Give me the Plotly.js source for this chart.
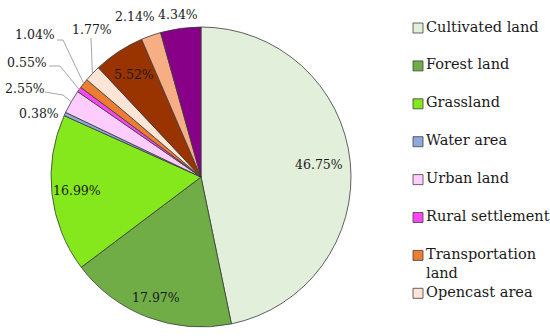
<!DOCTYPE html>
<html>
<head>
<meta charset="utf-8">
<script src="https://cdn.plot.ly/plotly-3.0.1.min.js"></script>
<style>html,body{margin:0;padding:0;background:#fff;}#chart{width:550px;height:336px;}</style>
</head>
<body>
<div id="chart"></div>
<script>
// ---- data ----
const labels = ["Cultivated land","Forest land","Grassland","Water area","Urban land","Rural settlement","Transportation land","Opencast area","Industrial and mining land","Other construction land","Unused land"];
const values = [46.75, 17.97, 16.99, 0.38, 2.55, 0.55, 1.04, 1.77, 5.52, 2.14, 4.34];
const colors = ["#E2EFDA","#70AD47","#85E81C","#8EA9DB","#FFCCFF","#FF44F4","#ED7D31","#FCE4D6","#993300","#F8AE84","#880088"];
const legendLabels = ["Cultivated land","Forest land","Grassland","Water area","Urban land","Rural settlement","Transportation<br>land","Opencast area"];

// ---- layout / styling ----
const W = 550, H = 336;
const dom = {x:[50/W, 352/W], y:[1-327/H, 1-27/H]};
const cx = (dom.x[0]+dom.x[1])/2*W, cy = (1-(dom.y[0]+dom.y[1])/2)*H;
const R = Math.min((dom.x[1]-dom.x[0])*W, (dom.y[1]-dom.y[0])*H)/2;
const px = x => x/W, py = y => 1 - y/H;
const font = "'DejaVu Serif', serif";

const total = values.reduce((a,b)=>a+b,0);
let cum = 0;
const mids = values.map(v => { const m = (cum + v/2)/total*360; cum += v; return m; });
const pt = (i, f) => { const a = mids[i]*Math.PI/180; return [cx + R*f*Math.sin(a), cy - R*f*Math.cos(a)]; };
const pct = v => v.toFixed(2) + "%";

// inside labels (index, radius fraction)
const inside = [[0,0.79],[1,0.86],[2,0.83],[8,0.82]];
// outside labels: index, text centre (px), leader-line start and elbow (px) or null
const outside = [
  {i:3, t:[39,113], line:null},
  {i:4, t:[25,89], line:[[45,92],[63,95]]},
  {i:5, t:[27,62], line:[[49,66],[60,66]]},
  {i:6, t:[35,35], line:[[57,40],[63,40]]},
  {i:7, t:[92,29], line:[[91,38],[91,38]]},
  {i:9, t:[135,16], line:null},
  {i:10, t:[178,15], line:null}
];

const annotations = [];
const shapes = [];
const lblFont = {family:font, size:12.5, color:"#1a1a1a"};
inside.forEach(([i,f]) => {
  const [x,y] = pt(i,f);
  annotations.push({x:px(x), y:py(y), xref:"paper", yref:"paper", text:pct(values[i]), showarrow:false,
    font:lblFont, xanchor:"center", yanchor:"middle"});
});
outside.forEach(o => {
  annotations.push({x:px(o.t[0]), y:py(o.t[1]), xref:"paper", yref:"paper", text:pct(values[o.i]), showarrow:false,
    font:lblFont, xanchor:"center", yanchor:"middle"});
  if (o.line) {
    const e = pt(o.i, 1.0);
    const p = `M ${px(o.line[0][0])} ${py(o.line[0][1])} L ${px(o.line[1][0])} ${py(o.line[1][1])} L ${px(e[0])} ${py(e[1])}`;
    shapes.push({type:"path", xref:"paper", yref:"paper", path:p, line:{color:"#A6A6A6", width:1}});
  }
});

// legend (first entries shown; rest clipped as in reference)
const legX = 413, legY0 = 28, legStep = 37.9, sq = 10;
legendLabels.forEach((lab, k) => {
  const y = legY0 + k*legStep;
  shapes.push({type:"rect", xref:"paper", yref:"paper", x0:px(legX), x1:px(legX+sq), y0:py(y-sq/2), y1:py(y+sq/2),
    fillcolor:colors[k], line:{color:"#404040", width:0.8}});
  annotations.push({x:px(legX+sq+2), y:py(y-10.5), xref:"paper", yref:"paper", text:lab, showarrow:false, align:"left",
    font:{family:font, size:14.5, color:"#1a1a1a"}, xanchor:"left", yanchor:"top", borderpad:0});
});

const trace = {
  type:"pie", labels:labels, values:values, sort:false, direction:"clockwise", rotation:0,
  marker:{colors:colors, line:{color:"#3a3a3a", width:0.8}},
  textinfo:"none", hoverinfo:"label+percent", showlegend:false, domain:dom
};
const layout = {width:W, height:H, margin:{l:0,r:0,t:0,b:0}, paper_bgcolor:"#fff", plot_bgcolor:"#fff",
  showlegend:false, annotations:annotations, shapes:shapes};
Plotly.newPlot("chart", [trace], layout, {displayModeBar:false, staticPlot:true});
</script>
</body>
</html>
